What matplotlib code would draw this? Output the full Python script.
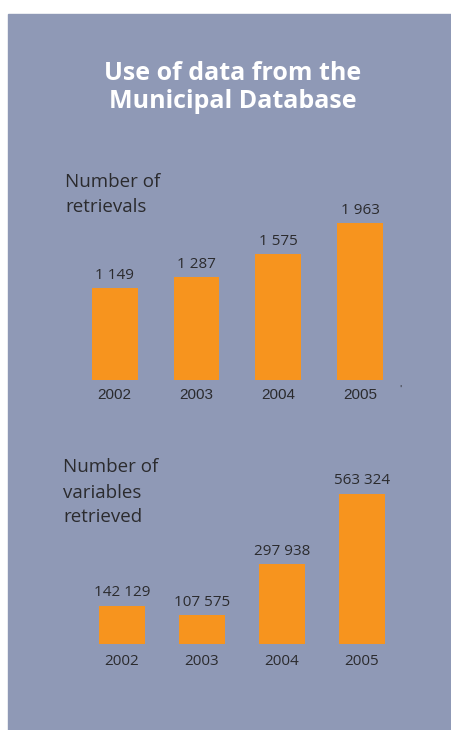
import matplotlib.pyplot as plt
from matplotlib.patches import Rectangle

# data
years = ['2002', '2003', '2004', '2005']
retrievals = [1149, 1287, 1575, 1963]
variables = [142129, 107575, 297938, 563324]

W, H = 451, 730
BG = '#8f99b6'
ORANGE = '#f7941e'
TXT = '#2b2b2e'
FONT = ['Open Sans', 'DejaVu Sans']


def fmt(v):
    # thousands grouped with a space, as in the original
    return f'{v:,}'.replace(',', ' ')


def px_axes(fig, left, right, top, bottom):
    # place axes using pixel coords measured from the top-left corner
    return fig.add_axes([left / W, 1 - bottom / H, (right - left) / W, (bottom - top) / H])


fig = plt.figure(figsize=(W / 100, H / 100), dpi=100)
fig.patch.set_facecolor('white')
fig.patches.append(Rectangle((8 / W, 0), 1 - 8 / W, 1 - 14 / H,
                             transform=fig.transFigure, color=BG, zorder=-5))

# title
fig.text(233 / W, 1 - 73 / H, 'Use of data from the', ha='center', va='center',
         color='white', fontsize=18, fontweight='bold', family=FONT)
fig.text(233 / W, 1 - 101 / H, 'Municipal Database', ha='center', va='center',
         color='white', fontsize=18, fontweight='bold', family=FONT)

# top chart
fig.text(65 / W, 1 - 187 / H, 'Number of', ha='left', va='baseline',
         color=TXT, fontsize=13.5, family=FONT)
fig.text(65 / W, 1 - 212 / H, 'retrievals', ha='left', va='baseline',
         color=TXT, fontsize=13.5, family=FONT)

ax1 = px_axes(fig, 73.7, 401, 200, 380)
x = range(len(years))
ax1.bar(x, retrievals, width=0.56, color=ORANGE)
ax1.set_xlim(-0.5, 3.5)
ax1.set_ylim(0, 2250)
for i, v in enumerate(retrievals):
    ax1.annotate(fmt(v), (i, v), xytext=(0, 6.8), textcoords='offset points',
                 ha='center', va='baseline', color=TXT, fontsize=11, family=FONT)
    ax1.annotate(years[i], (i, 0), xytext=(0, -13.9), textcoords='offset points',
                 ha='center', va='baseline', color=TXT, fontsize=11,
                 family=['Liberation Sans', 'DejaVu Sans'])
ax1.axis('off')
fig.text(400 / W, 1 - 389 / H, "'", ha='center', va='center', color=TXT, fontsize=6)

# bottom chart
for k, line in enumerate(['Number of', 'variables', 'retrieved']):
    fig.text(63 / W, 1 - (472.5 + 25 * k) / H, line, ha='left', va='baseline',
             color=TXT, fontsize=13.5, family=FONT)

ax2 = px_axes(fig, 82, 402, 470, 643.7)
ax2.bar(x, variables, width=0.575, color=ORANGE)
ax2.set_xlim(-0.5, 3.5)
ax2.set_ylim(0, 653000)
for i, v in enumerate(variables):
    ax2.annotate(fmt(v), (i, v), xytext=(0, 6.8), textcoords='offset points',
                 ha='center', va='baseline', color=TXT, fontsize=11, family=FONT)
    ax2.annotate(years[i], (i, 0), xytext=(0, -15.3), textcoords='offset points',
                 ha='center', va='baseline', color=TXT, fontsize=11, family=FONT)
ax2.axis('off')

fig.savefig('out.png', dpi=100, facecolor=fig.get_facecolor())
